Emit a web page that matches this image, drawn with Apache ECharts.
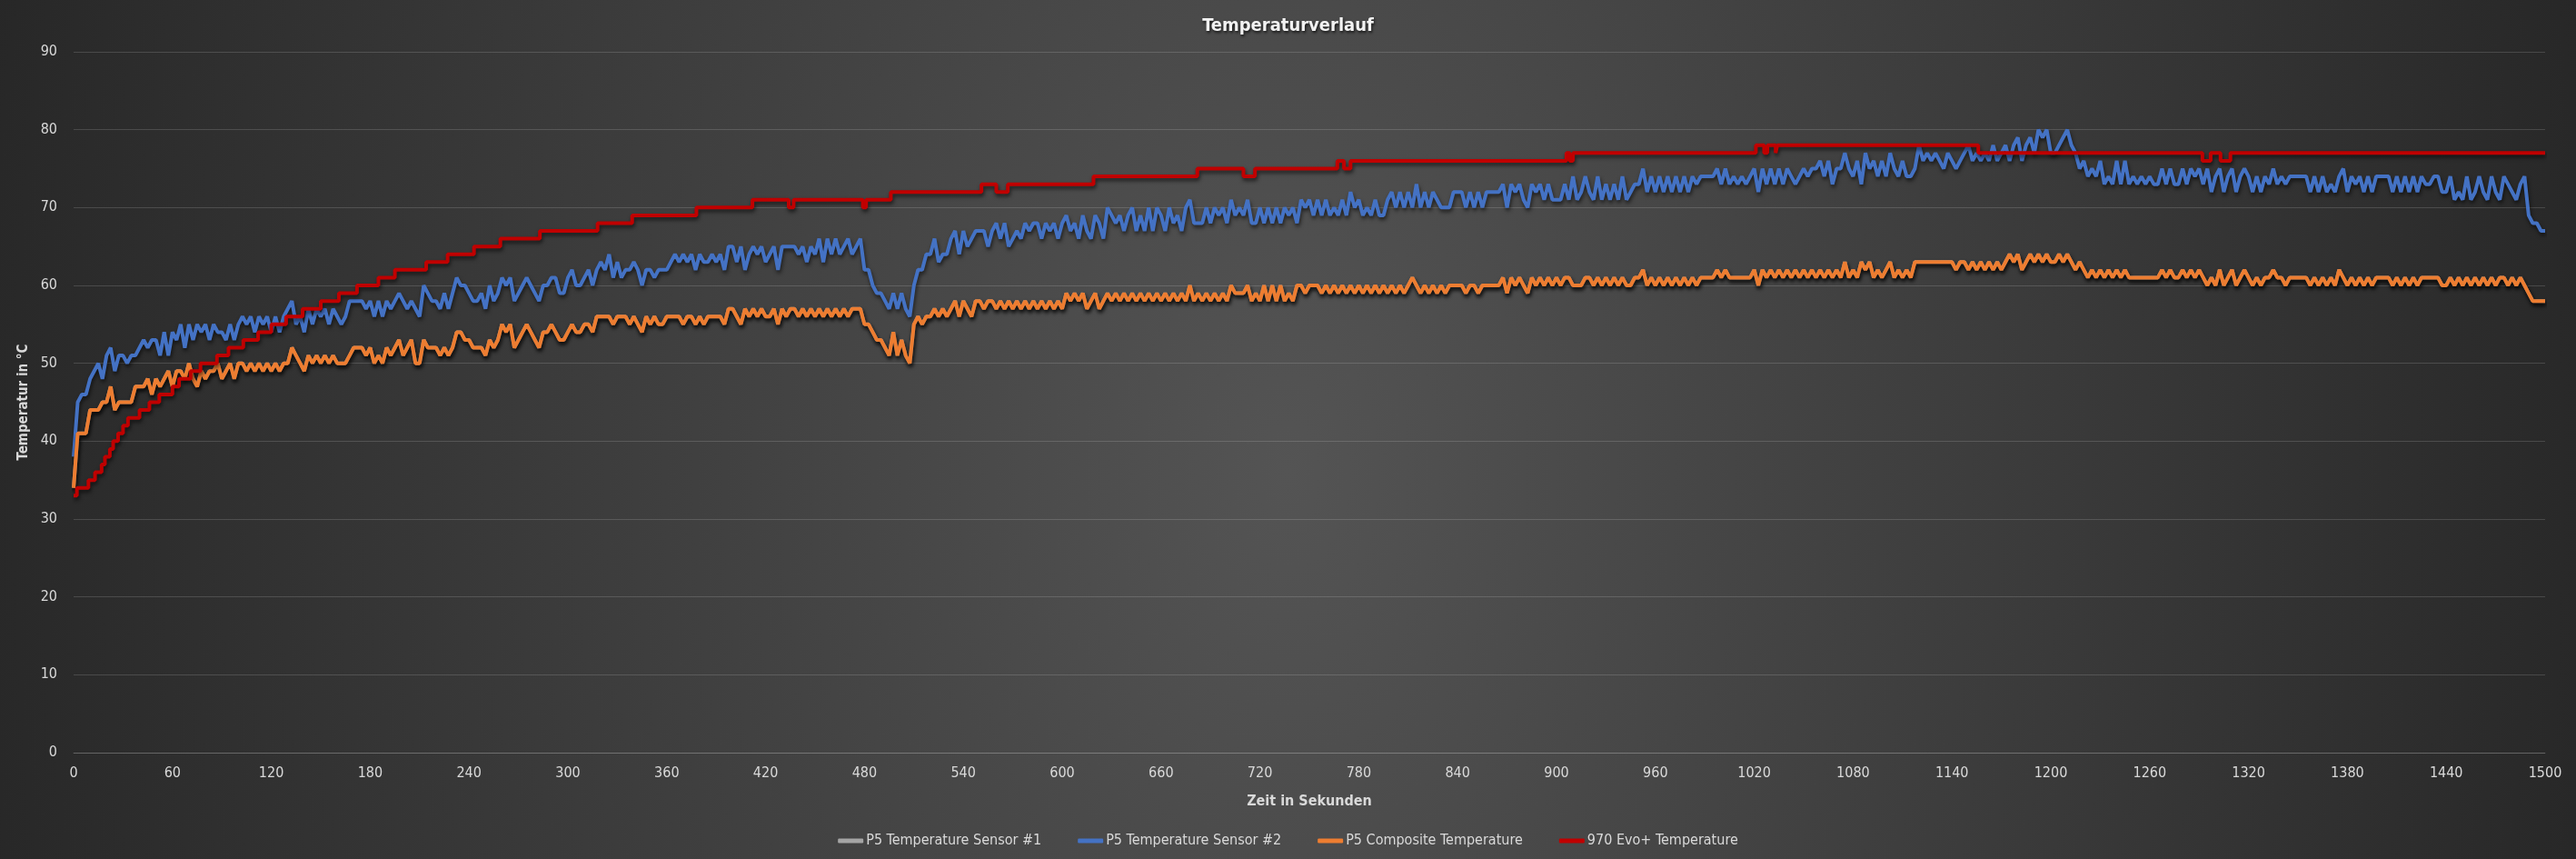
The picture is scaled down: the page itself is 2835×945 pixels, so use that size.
<!DOCTYPE html>
<html>
<head>
<meta charset="utf-8">
<script src="https://cdn.jsdelivr.net/npm/echarts@6/dist/echarts.min.js"></script>
<style>
html, body { margin:0; padding:0; width:2835px; height:945px; overflow:hidden;
  background: radial-gradient(ellipse 1500px 2400px at 50% 55%, #545454 0%, #262626 100%); }
#chart { width:2835px; height:945px; }
</style>
</head>
<body>
<div id="chart"></div>
<script>
const chartTitle = 'Temperaturverlauf';
const xAxisTitle = 'Zeit in Sekunden';
const yAxisTitle = 'Temperatur in °C';
const seriesNames = ['P5 Temperature Sensor #1', 'P5 Temperature Sensor #2', 'P5 Composite Temperature', '970 Evo+ Temperature'];
const seriesColors = ['#A5A5A5', '#4472C4', '#ED7D31', '#C00000'];

// readings every 2.5 s from 0 to 1500 s (601 values)
const sampleStep = 2.5;
const sensor2Values = [
  38,
  45,46,46,48,49,50,48,51,52,49, 51,51,50,51,51,52,53,52,53,53,
  51,54,51,54,53,55,52,55,53,55, 54,55,53,55,54,54,53,55,53,55,
  56,55,56,54,56,55,56,54,56,54,56,
  57,58,55,56,54,57,55,57,56,57, 55,57,56,55,56,58,58,58,58,57,
  58,56,58,56,58,57,58,59,58,57, 58,57,56,60,59,58,58,57,59,57,
  59,61,60,60,59,58,58,59,57,60, 58,59,61,60,61,58,59,60,61,60,
  59,58,60,60,61,
  61,59,59,61,62,60,60,61,62,60, 62,63,62,64,61,63,61,62,62,63,
  62,60,62,62,61,62,62,62,63,64, 63,64,63,
  64,62,64,63,
  63,64,63,64,62,65,65,63,65,62, 64,65,64,65,63,64,65,62,65,65,
  65,65,64,65,63,65,64,66,63,66, 64,66,64,65,66,64,65,66,62,62,
  60,59,59,58,57,59,57,59,57,56, 60,62,62,64,64,66,63,64,64,66,
  67,64,67,65,66,
  67,67,67,65,67,68,66,68,65,66, 67,66,68,67,68,68,66,68,67,68,
  66,68,69,67,68,66,69,67,66,69, 68,66,70,69,68,69,67,69,70,67,
  69,67,70,67,70,69,67,70,68,69, 67,70,71,68,68,68,70,68,70,69,
  70,68,71,69,
  70,69,71,68,68,70,68,70,68,70, 68,70,69,70,68,71,70,71,
  69,
  71,69,71,69,70,69,71,69,72,70, 71,69,70,69,71,69,69,71,72,70,
  72,70,72,70,73,70,72,70,72,71, 70,70,70,
  72,72,72,70,72,70,72,70,72,72, 72,72,73,70,73,72,73,71,70,73,
  72,73,71,73,71,71,71,73,71,74, 71,72,74,72,71,74,71,73,71,73,
  71,74,71,72,73,73,75,72,74,72, 74,72,74,72,74,72,74,72,74,73,
  74,74,74,74,
  75,73,75,73,74,73,74,73,74,75, 72,75,73,75,73,75,73,75,74,73,
  74,75,74,75,75,76,74,76,73,75, 75,77,75,74,76,73,77,75,76,74,
  76,74,77,75,74,76,74,74,75,78, 76,77,76,77,76,75,77,76,
  75,76,77,78,76,77,76,77,76,78, 76,77,78,76,78,79,76,78,79,77, 80,79,80,77,
  77,78,79,80,78,77,75,76,74,75, 74,76,73,74,73,76,73,76,73,74, 73,74,73,74,73,73,75,73,75,73,
  73,75,73,75,74,75,73,75,72,74, 75,72,74,75,72,74,75,74,72,74, 72,74,73,75,73,74,73,74,74,74,
  74,74,72,74,72,74,72,73,72,74, 75,72,74,73,74,72,74,72,74,74, 74,74,72,74,72,74,72,74,72,74, 73,
  73,74,74,72,72,74,71,72,71,74, 71,72,74,72,71,74,72,71,74,73, 72,71,73,74,69,68,68,67,67
];
const compositeValues = [
  34,
  41,41,41,44,44,44,45,45,47,44, 45,45,45,45,47,47,47,48,46,48,
  47,48,49,47,49,49,48,50,48,47, 49,48,49,49,50,48,49,50,48,50,
  50,49,50,49,50,49,50,49,50,49,50,
  50,52,51,50,49,51,50,51,50,51, 50,51,50,50,50,51,52,52,52,51,
  52,50,51,50,52,51,52,53,51,52, 53,50,50,53,52,52,52,51,52,51,
  52,54,54,53,53,52,52,52,51,53, 52,53,55,54,55,52,53,54,55,54,
  53,52,54,54,55,
  54,53,53,54,55,54,54,55,55,54, 56,56,56,56,55,56,56,56,55,56,
  55,54,56,55,56,55,55,56,56,56, 56,55,56,
  56,55,56,55,
  56,56,56,56,55,57,57,56,55,57, 56,57,56,57,56,56,57,55,57,56,
  57,57,56,57,56,57,56,57,56,57, 56,57,56,57,56,57,57,57,55,55,
  54,53,53,52,51,54,51,53,51,50, 55,56,55,56,56,57,56,57,56,57,
  58,56,58,57,56,
  58,58,57,58,58,57,58,57,58,57, 58,57,58,57,58,57,58,57,58,57,
  58,57,59,58,59,58,59,57,58,59, 57,58,59,58,59,58,59,58,59,58,
  59,58,59,58,59,58,59,58,59,58, 59,58,60,58,59,58,59,58,59,58,
  59,58,60,59,
  59,59,60,58,59,58,60,58,60,58, 60,58,59,58,60,60,59,60,
  60,
  60,59,60,59,60,59,60,59,60,59, 60,59,60,59,60,59,60,59,60,59,
  60,59,60,61,60,59,60,59,60,59, 60,59,60,
  60,60,60,59,60,60,59,60,60,60, 60,60,61,59,61,60,61,60,59,61,
  60,61,60,61,60,61,60,61,61,60, 60,60,61,61,60,61,60,61,60,61,
  60,61,60,60,61,61,62,60,61,60, 61,60,61,60,61,60,61,60,61,60,
  61,61,61,61,
  62,61,62,61,61,61,61,61,61,62, 60,62,61,62,61,62,61,62,61,62,
  61,62,61,62,61,62,61,62,61,62, 61,63,61,62,61,63,62,63,61,62,
  61,62,63,61,62,61,62,61,63,63, 63,63,63,63,63,63,63,63,
  62,63,63,62,63,62,63,62,63,62, 63,62,63,64,63,64,62,63,64,63, 64,63,64,63,
  63,64,63,64,63,62,63,62,61,62, 61,62,61,62,61,62,61,62,61,61, 61,61,61,61,61,61,62,61,62,61,
  61,62,61,62,61,62,61,60,61,60, 62,60,61,62,60,61,62,61,60,61, 60,61,61,62,61,61,60,61,61,61,
  61,61,60,61,60,61,60,61,60,62, 61,60,61,60,61,60,61,60,61,61, 61,61,60,61,60,61,60,61,60,61, 61,
  61,61,61,60,60,61,60,61,60,61, 60,61,60,61,60,61,60,61,61,60, 61,60,61,60,59,58,58,58,58
];
// Sensor #1 reads the same as the composite value and is hidden beneath it
const sensor1Values = compositeValues;

// 970 Evo+: times (s) at which the reading changes, and the new reading
const evoChangeTimes = [0,2,9,13,17,19,22,24,27,30,33,40,46,52,60,64,71,77,87,94,103,112,120,129,139,150,161,172,185,195,214,227,243,259,283,318,339,378,412,434,437,479,481,496,551,560,567,619,682,710,717,767,771,775,906,908,910,1021,1026,1028,1033,1034,1156,1292,1297,1303,1309,1500];
const evoChangeValues = [33,34,35,36,37,38,39,40,41,42,43,44,45,46,47,48,49,50,51,52,53,54,55,56,57,58,59,60,61,62,63,64,65,66,67,68,69,70,71,70,71,70,71,72,73,72,73,74,75,74,75,76,75,76,77,76,77,78,77,78,77,78,77,76,77,76,77,77];

const xMin = 0, xMax = 1500, xInterval = 60;
const yMin = 0, yMax = 90, yInterval = 10;

function sampled(values) {
  return values.map((v, i) => [i * sampleStep, v]);
}
const evoData = evoChangeTimes.map((t, i) => [t, evoChangeValues[i]]);

const FONT = "'Liberation Sans Narrow', 'DejaVu Sans Condensed', 'Roboto', sans-serif";
const TEXT = '#d9d9d9';
const GRID = 'rgba(255,255,255,0.15)';

const shadow = { shadowColor: 'rgba(0,0,0,0.6)', shadowBlur: 4, shadowOffsetX: 1, shadowOffsetY: 3 };

function lineSeries(idx, data, extra) {
  return Object.assign({
    name: seriesNames[idx], type: 'line', data: data,
    showSymbol: false, symbol: 'none', animation: false,
    lineStyle: Object.assign({ width: 4, color: seriesColors[idx] }, shadow),
    itemStyle: { color: seriesColors[idx] }
  }, extra || {});
}

const chart = echarts.init(document.getElementById('chart'), null, { renderer: 'canvas' });
chart.setOption({
  backgroundColor: 'transparent',
  animation: false,
  title: {
    text: chartTitle, left: 'center', top: 14,
    textStyle: { color: '#f2f2f2', fontSize: 20, fontWeight: 'bold', fontFamily: FONT,
      textShadowColor: 'rgba(0,0,0,0.7)', textShadowBlur: 3, textShadowOffsetX: 1, textShadowOffsetY: 2 }
  },
  grid: { left: 81, right: 34, top: 57, bottom: 117, containLabel: false },
  legend: {
    data: seriesNames, left: 'center', top: 912, itemGap: 40, itemWidth: 28, itemHeight: 5,
    icon: 'roundRect',
    textStyle: { color: TEXT, fontSize: 16, fontFamily: FONT, padding: [0, 0, 0, -2] }
  },
  xAxis: {
    type: 'value', min: xMin, max: xMax, interval: xInterval,
    name: xAxisTitle, nameLocation: 'middle', nameGap: 46,
    nameTextStyle: { color: TEXT, fontSize: 16, fontWeight: 'bold', fontFamily: FONT },
    axisLine: { show: true, lineStyle: { color: GRID, width: 1 } },
    axisTick: { show: false },
    splitLine: { show: false },
    axisLabel: { color: TEXT, fontSize: 16, fontFamily: FONT, margin: 15, formatter: v => String(v) }
  },
  yAxis: {
    type: 'value', min: yMin, max: yMax, interval: yInterval,
    name: yAxisTitle, nameLocation: 'middle', nameGap: 43, nameRotate: 90,
    nameTextStyle: { color: TEXT, fontSize: 15, fontWeight: 'bold', fontFamily: FONT },
    axisLine: { show: false }, axisTick: { show: false },
    splitLine: { show: true, lineStyle: { color: GRID, width: 1 } },
    axisLabel: { color: TEXT, fontSize: 16, fontFamily: FONT, margin: 18, formatter: v => String(v) }
  },
  series: [
    lineSeries(0, sampled(sensor1Values)),
    lineSeries(1, sampled(sensor2Values)),
    lineSeries(2, sampled(compositeValues)),
    lineSeries(3, evoData, { step: 'end' })
  ]
});
</script>
</body>
</html>
